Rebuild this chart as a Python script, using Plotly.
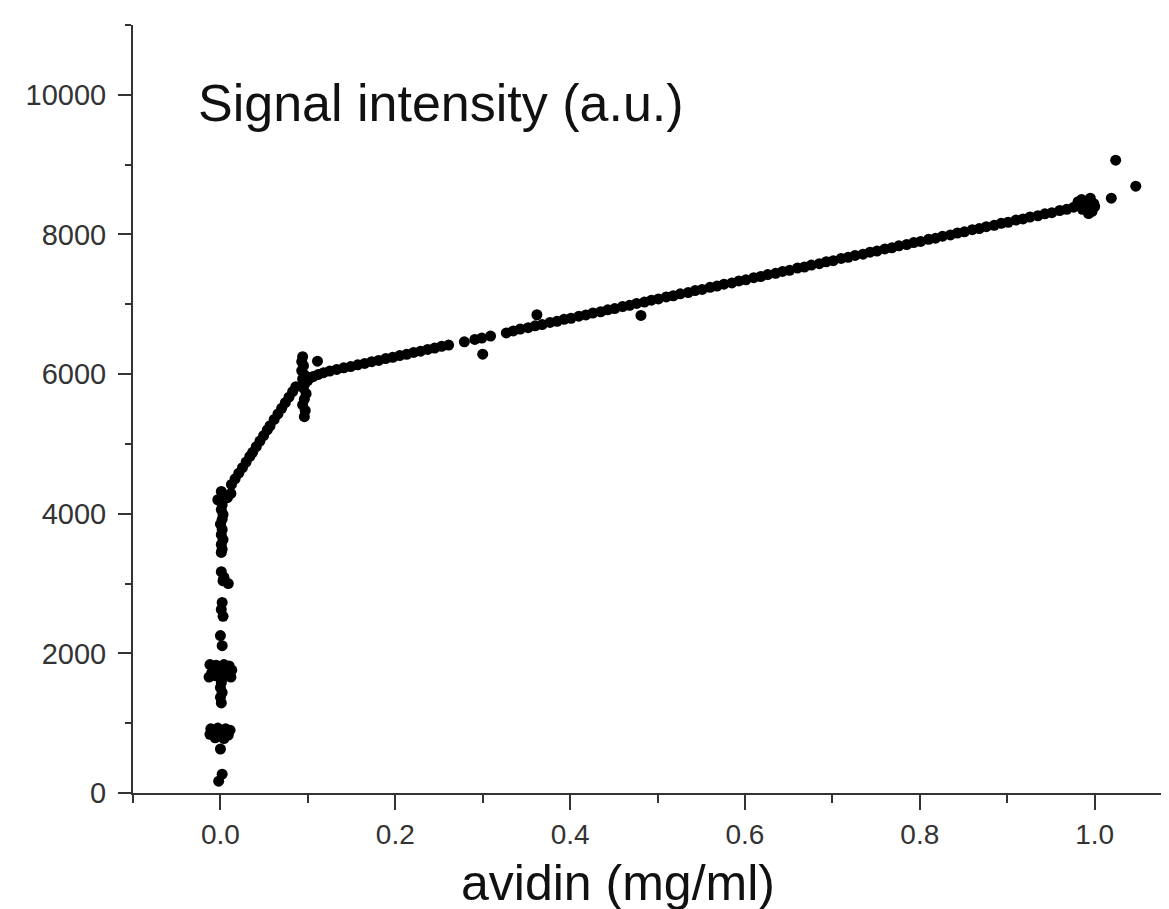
import plotly.graph_objects as go

# ---- data ----
zero_x = [0.001, 0.012, -0.003, 0.008, 0.004, 0.002, 0.001, 0.003, 0.002, 0.000,
          0.002, 0.001, 0.003, 0.001, 0.002, 0.001, 0.001, 0.004, 0.009, 0.003,
          0.002, 0.001, 0.003, 0.000, 0.002, -0.012, -0.005, 0.004, 0.010, 0.013,
          -0.010, 0.000, 0.008, -0.013, 0.012, 0.003, -0.006, 0.001, 0.000, 0.002,
          0.000, 0.001, -0.011, -0.003, 0.006, 0.011, -0.012, 0.000, 0.009, -0.006,
          0.004, 0.000, 0.002, -0.002]
zero_y = [4320, 4290, 4200, 4230, 4260, 4130, 4060, 3990, 3920, 3850,
          3775, 3700, 3630, 3560, 3490, 3445, 3170, 3090, 3000, 3040,
          2730, 2630, 2530, 2255, 2110, 1840, 1830, 1840, 1820, 1760,
          1720, 1740, 1700, 1660, 1660, 1650, 1680, 1580, 1510, 1440,
          1370, 1290, 920, 930, 920, 900, 840, 850, 830, 790,
          780, 630, 270, 170]

rise_x = [0.0126, 0.0168, 0.0210, 0.0252, 0.0294, 0.0336, 0.0368, 0.0410, 0.0452, 0.0494,
          0.0536, 0.0568, 0.0615, 0.0658, 0.0700, 0.0742, 0.0784, 0.0826, 0.0863]
rise_y = [4420, 4500, 4580, 4660, 4740, 4820, 4880, 4960, 5040, 5120,
          5200, 5260, 5350, 5430, 5510, 5590, 5670, 5750, 5820]

knee_x = [0.094, 0.093, 0.095, 0.093, 0.096, 0.094, 0.097, 0.095, 0.098, 0.096,
          0.094, 0.097, 0.096, 0.100, 0.103]
knee_y = [6250, 6180, 6120, 6050, 5990, 5930, 5870, 5800, 5720, 5640,
          5560, 5480, 5390, 5910, 5950]

plateau_x = [0.106, 0.112, 0.118, 0.125, 0.133, 0.141, 0.149, 0.157, 0.165, 0.173,
             0.181, 0.189, 0.197, 0.205, 0.213, 0.221, 0.229, 0.237, 0.245, 0.253,
             0.261, 0.279, 0.291, 0.299, 0.309, 0.327, 0.335, 0.343, 0.352, 0.360,
             0.368, 0.377, 0.385, 0.393, 0.401, 0.410, 0.418, 0.426, 0.435, 0.443,
             0.451, 0.460, 0.468, 0.476, 0.485, 0.493, 0.501, 0.510, 0.518, 0.526,
             0.535, 0.543, 0.551, 0.560, 0.568, 0.576, 0.585, 0.593, 0.601, 0.610,
             0.618, 0.626, 0.635, 0.643, 0.651, 0.660, 0.668, 0.676, 0.685, 0.693,
             0.701, 0.710, 0.718, 0.726, 0.735, 0.743, 0.751, 0.760, 0.768, 0.776,
             0.785, 0.793, 0.801, 0.810, 0.818, 0.826, 0.835, 0.843, 0.851, 0.860,
             0.868, 0.876, 0.885, 0.893, 0.901, 0.910, 0.918, 0.926, 0.935, 0.943,
             0.951, 0.960, 0.968]
plateau_y = [5965, 5995, 6020, 6044, 6066, 6090, 6108, 6133, 6152, 6178,
             6196, 6222, 6240, 6266, 6284, 6310, 6328, 6354, 6372, 6397,
             6415, 6462, 6496, 6516, 6545, 6590, 6618, 6646, 6665, 6692,
             6710, 6740, 6756, 6784, 6800, 6830, 6848, 6875, 6893, 6920,
             6938, 6968, 6985, 7012, 7031, 7058, 7076, 7105, 7122, 7150,
             7168, 7196, 7212, 7243, 7260, 7287, 7306, 7334, 7350, 7381,
             7398, 7425, 7443, 7471, 7487, 7518, 7534, 7562, 7581, 7609,
             7625, 7656, 7672, 7700, 7718, 7746, 7762, 7793, 7809, 7837,
             7856, 7884, 7900, 7931, 7947, 7975, 7993, 8021, 8037, 8068,
             8084, 8112, 8131, 8159, 8175, 8206, 8222, 8250, 8268, 8296,
             8312, 8343, 8360]

end_x = [0.976, 0.981, 0.985, 0.988, 0.990, 0.992, 0.995, 0.997, 0.999, 1.000, 0.993, 0.986]
end_y = [8390, 8470, 8500, 8420, 8360, 8480, 8520, 8330, 8440, 8400, 8300, 8360]

out_x = [0.111, 0.300, 0.362, 0.481, 1.019, 1.024, 1.047]
out_y = [6185, 6285, 6850, 6840, 8519, 9064, 8691]

x_ticks = [0.0, 0.2, 0.4, 0.6, 0.8, 1.0]
y_ticks = [0, 2000, 4000, 6000, 8000, 10000]

FONT = "Liberation Sans, Arial, sans-serif"
AX = "#333333"

fig = go.Figure()
for xs, ys in [(zero_x, zero_y), (rise_x, rise_y), (knee_x, knee_y),
               (plateau_x, plateau_y), (end_x, end_y), (out_x, out_y)]:
    fig.add_trace(go.Scatter(
        x=xs, y=ys, mode="markers",
        marker=dict(color="black", size=11, line=dict(width=0)),
        showlegend=False, hoverinfo="x+y"))

fig.update_layout(
    width=1161, height=901,
    margin=dict(l=125, r=0, t=17, b=116, pad=0),
    paper_bgcolor="white", plot_bgcolor="white",
    font=dict(family=FONT, color=AX),
    showlegend=False,
)

fig.update_xaxes(
    range=[-0.1, 1.085], showgrid=False, zeroline=False,
    showline=True, linecolor=AX, linewidth=2,
    tickmode="array", tickvals=x_ticks, ticktext=[f"{v:.1f}" for v in x_ticks],
    ticks="outside", ticklen=15, tickwidth=2, tickcolor=AX,
    minor=dict(ticks="outside", ticklen=8, tickwidth=2, tickcolor=AX,
               tickmode="linear", tick0=-0.1, dtick=0.2),
    tickfont=dict(size=28, family=FONT, color=AX),
    ticklabelstandoff=0,
)
fig.update_yaxes(
    range=[0, 11000], showgrid=False, zeroline=False,
    showline=True, linecolor=AX, linewidth=2,
    tickmode="array", tickvals=y_ticks, ticktext=[str(v) for v in y_ticks],
    ticks="outside", ticklen=13, tickwidth=2, tickcolor=AX,
    minor=dict(ticks="outside", ticklen=6, tickwidth=2, tickcolor=AX,
               tickmode="linear", tick0=1000, dtick=2000),
    tickfont=dict(size=29, family=FONT, color=AX),
    ticklabelstandoff=6,
)

fig.add_annotation(
    text="Signal intensity (a.u.)", xref="paper", yref="paper",
    x=0.061, y=0.8984, xanchor="left", yanchor="middle", showarrow=False,
    font=dict(size=52, family=FONT, color="#111111"),
)
fig.add_annotation(
    text="avidin (mg/ml)", xref="paper", yref="paper",
    x=0.468, y=-0.1172, xanchor="center", yanchor="middle", showarrow=False,
    font=dict(size=50, family=FONT, color="#111111"),
)

fig.write_html("out.html")
